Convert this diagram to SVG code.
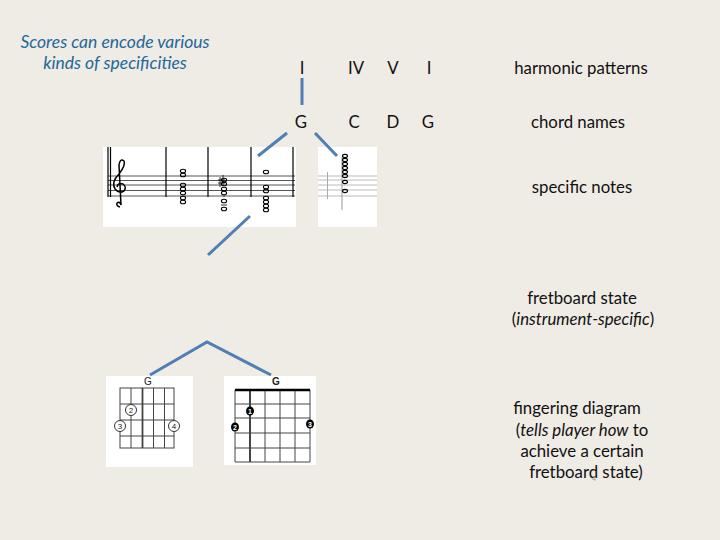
<svg xmlns="http://www.w3.org/2000/svg" width="720" height="540" viewBox="0 0 720 540">
<style>
.t{font-family:Lato,"Open Sans","Liberation Sans",sans-serif;font-size:16.8px;fill:#111;text-anchor:middle}
.ti{font-family:Lato,"Open Sans","Liberation Sans",sans-serif;font-size:17.5px;fill:#21689b;font-style:italic;text-anchor:middle}
.conn{stroke:#4f7fb5;stroke-width:3;fill:none;stroke-linecap:butt}
.bl{stroke:#000;stroke-width:1.2}
.st{stroke:#555;stroke-width:1}
.gst{stroke:#bbb;stroke-width:1}
.note{fill:none;stroke:#000;stroke-width:1.1}
.grid{stroke:#444;stroke-width:1;fill:none}
.small{font-family:"Liberation Sans",sans-serif;font-size:7px;text-anchor:middle}
</style>
<rect width="720" height="540" fill="#efebe5"/>

<g id="title">
<text class="ti" x="115" y="48">Scores can encode various</text>
<text class="ti" x="115" y="69">kinds of specificities</text>
</g>

<g id="harmonic">
<text class="t" x="302" y="74">I</text>
<text class="t" x="356" y="74">IV</text>
<text class="t" x="393" y="74">V</text>
<text class="t" x="429" y="74">I</text>
</g>
<g id="chords">
<text class="t" x="301" y="128">G</text>
<text class="t" x="354" y="128">C</text>
<text class="t" x="393" y="128">D</text>
<text class="t" x="428" y="128">G</text>
</g>

<g id="labels">
<text class="t" x="581" y="74">harmonic patterns</text>
<text class="t" x="578" y="128">chord names</text>
<text class="t" x="582" y="193">specific notes</text>
<text class="t" x="582" y="304">fretboard state</text>
<text class="t" x="583" y="325">(<tspan font-style="italic">instrument-specific</tspan>)</text>
<text class="t" x="577" y="414">fingering diagram</text>
<text class="t" x="582" y="436">(<tspan font-style="italic">tells player how</tspan> to</text>
<text class="t" x="582" y="457">achieve a certain</text>
<text class="t" x="586" y="478">fretboard state)</text>
<text class="small" x="594" y="481" fill="#999">4</text>
</g>

<g id="score">
<rect x="103" y="147" width="193" height="80" fill="#fff"/>
<g class="st">
<line x1="108" y1="176" x2="295" y2="176"/>
<line x1="108" y1="180.5" x2="295" y2="180.5"/>
<line x1="108" y1="185" x2="295" y2="185"/>
<line x1="108" y1="190.5" x2="295" y2="190.5"/>
<line x1="108" y1="196" x2="295" y2="196"/>
</g>
<g class="bl">
<line x1="108" y1="147" x2="108" y2="197"/>
<line x1="110.5" y1="147" x2="110.5" y2="197"/>
<line x1="166" y1="147" x2="166" y2="197"/>
<line x1="208" y1="147" x2="208" y2="197"/>
<line x1="251" y1="147" x2="251" y2="197"/>
<line x1="293" y1="147" x2="293" y2="197"/>
</g>
<path d="M120 207 q-4 -1 -3 -4 q3 -2 4 2 l-2 -40 q1 -7 5 -4 q2 4 -5 13 q-8 8 -4 15 q4 5 9 2 q3 -4 -1 -7 q-5 -2 -6 3" fill="none" stroke="#000" stroke-width="1.5"/>
<g class="note">
<ellipse cx="183" cy="171" rx="2.6" ry="1.8"/>
<ellipse cx="183" cy="175" rx="2.6" ry="1.8"/>
<ellipse cx="183" cy="185" rx="2.6" ry="1.8"/>
<ellipse cx="183" cy="189" rx="2.6" ry="1.8"/>
<ellipse cx="183" cy="193" rx="2.6" ry="1.8"/>
<ellipse cx="183" cy="198" rx="2.6" ry="1.8"/>
<ellipse cx="183" cy="202" rx="2.6" ry="1.8"/>
<ellipse cx="224" cy="180" rx="2.6" ry="1.8"/>
<ellipse cx="224" cy="184" rx="2.6" ry="1.8"/>
<ellipse cx="224" cy="189" rx="2.6" ry="1.8"/>
<ellipse cx="224" cy="193" rx="2.6" ry="1.8"/>
<ellipse cx="224" cy="201" rx="2.6" ry="1.8"/>
<ellipse cx="224" cy="209" rx="2.6" ry="1.8"/>
<ellipse cx="266" cy="172" rx="2.6" ry="1.8"/>
<ellipse cx="266" cy="187" rx="2.6" ry="1.8"/>
<ellipse cx="266" cy="191" rx="2.6" ry="1.8"/>
<ellipse cx="266" cy="198" rx="2.6" ry="1.8"/>
<ellipse cx="266" cy="202" rx="2.6" ry="1.8"/>
<ellipse cx="266" cy="206" rx="2.6" ry="1.8"/>
<ellipse cx="266" cy="210" rx="2.6" ry="1.8"/>
</g>
<path d="M220 177 v10 M223 175 v10 M218 180 h7 M218 183 h7" stroke="#000" stroke-width="0.8"/>
<line x1="224" y1="195.5" x2="224" y2="197" stroke="#000" stroke-width="0.8"/>
<line x1="221" y1="205" x2="227" y2="205" stroke="#000" stroke-width="0.8"/>
</g>

<g id="score-notes">
<rect x="318" y="147" width="59" height="80" fill="#fff"/>
<g class="gst">
<line x1="318" y1="176" x2="377" y2="176"/>
<line x1="318" y1="180" x2="377" y2="180"/>
<line x1="318" y1="185" x2="377" y2="185"/>
<line x1="318" y1="190" x2="377" y2="190"/>
<line x1="318" y1="196" x2="377" y2="196"/>
</g>
<line x1="327.5" y1="172" x2="327.5" y2="199" stroke="#aaa" stroke-width="1"/>
<line x1="342" y1="157" x2="342" y2="210" stroke="#999" stroke-width="1"/>
<g class="note" stroke-width="1">
<ellipse cx="345" cy="156" rx="2.5" ry="1.6"/>
<ellipse cx="345" cy="160" rx="2.5" ry="1.6"/>
<ellipse cx="345" cy="164" rx="2.5" ry="1.6"/>
<ellipse cx="345" cy="168" rx="2.5" ry="1.6"/>
<ellipse cx="345" cy="172" rx="2.5" ry="1.6"/>
<ellipse cx="345" cy="176" rx="2.5" ry="1.6"/>
<ellipse cx="345" cy="182" rx="2.5" ry="1.6"/>
<ellipse cx="345" cy="191" rx="2.5" ry="1.6"/>
</g>
</g>

<g id="fingering">
<rect x="106" y="376" width="87" height="91" fill="#fff"/>
<text x="148" y="385" font-family="Liberation Sans,sans-serif" font-size="10" text-anchor="middle" fill="#222">G</text>
<g class="grid">
<rect x="120" y="388" width="54" height="60"/>
<line x1="131" y1="388" x2="131" y2="448"/>
<line x1="142.5" y1="388" x2="142.5" y2="448" stroke-width="1.8"/>
<line x1="153.5" y1="388" x2="153.5" y2="448"/>
<line x1="164.5" y1="388" x2="164.5" y2="448"/>
<line x1="120" y1="404" x2="174" y2="404"/>
<line x1="120" y1="420" x2="174" y2="420"/>
<line x1="120" y1="436" x2="174" y2="436"/>
</g>
<g fill="#fff" stroke="#333" stroke-width="1">
<circle cx="131" cy="410" r="5.5"/>
<circle cx="120" cy="426" r="5.5"/>
<circle cx="174" cy="426" r="5.5"/>
</g>
<g font-family="Liberation Sans,sans-serif" font-size="8" text-anchor="middle" fill="#222">
<text x="131" y="413">2</text>
<text x="120" y="429">3</text>
<text x="174" y="429">4</text>
</g>
</g>

<g id="fretboard">
<rect x="224" y="376" width="92" height="89" fill="#fff"/>
<text x="276" y="385" font-family="Liberation Sans,sans-serif" font-size="10" font-weight="bold" text-anchor="middle" fill="#222">G</text>
<g class="grid" stroke="#333">
<line x1="235" y1="390" x2="235" y2="462"/>
<line x1="250" y1="390" x2="250" y2="462" stroke-width="2"/>
<line x1="265" y1="390" x2="265" y2="462"/>
<line x1="280" y1="390" x2="280" y2="462"/>
<line x1="295" y1="390" x2="295" y2="462"/>
<line x1="310" y1="390" x2="310" y2="462"/>
<line x1="235" y1="404" x2="310" y2="404"/>
<line x1="235" y1="418" x2="310" y2="418"/>
<line x1="235" y1="433" x2="310" y2="433"/>
<line x1="235" y1="448" x2="310" y2="448"/>
<line x1="235" y1="462" x2="310" y2="462"/>
<line x1="235" y1="390" x2="310" y2="390" stroke-width="2.5" stroke="#000"/>
</g>
<g fill="#000">
<ellipse cx="250" cy="411" rx="4" ry="4.5"/>
<ellipse cx="235" cy="427" rx="4" ry="4.5"/>
<ellipse cx="310" cy="424" rx="4" ry="4.5"/>
</g>
<g font-family="Liberation Sans,sans-serif" font-size="7" font-weight="bold" text-anchor="middle" fill="#fff">
<text x="250" y="413.5">1</text>
<text x="235" y="429.5">2</text>
<text x="310" y="426.5">3</text>
</g>
</g>

<g id="connectors" class="conn">
<line x1="302" y1="78" x2="302" y2="105"/>
<line x1="287" y1="133" x2="258" y2="156"/>
<line x1="315" y1="133" x2="337" y2="156"/>
<line x1="250" y1="216" x2="208" y2="255"/>
<polyline points="150,375 207,342 271,375"/>
</g>
</svg>
